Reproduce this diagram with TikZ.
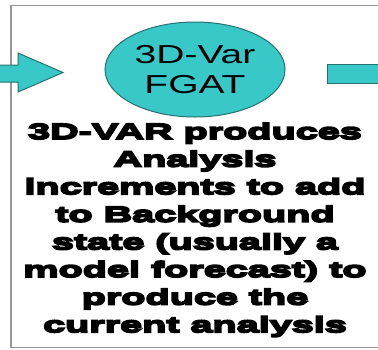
\documentclass[tikz,border=0pt]{standalone}
\usepackage{fontspec}
\setmainfont{Liberation Sans}
\newfontfamily\bodyfont[UprightFont={* Bold},FakeStretch=1.8,FakeBold=8]{Liberation Sans}
\newfontfamily\ellfont[FakeStretch=1.5]{Liberation Sans}
\usetikzlibrary{shapes.geometric}
\definecolor{tealfill}{RGB}{56,200,200}
\definecolor{tealedge}{RGB}{40,112,112}
\definecolor{framegray}{RGB}{150,150,150}
\tikzset{
  txtline/.style={anchor=base, inner sep=0pt, font=\bodyfont\fontsize{22}{27.6}\selectfont},
  blob/.style={ellipse, draw=tealedge, fill=tealfill, line width=1pt, inner sep=0pt,
    minimum width=180pt, minimum height=95pt, align=center,
    font=\ellfont\fontsize{26}{30}\selectfont},
  tealshape/.style={fill=tealfill, draw=tealedge, line width=1pt}
}
\begin{document}
\begin{tikzpicture}[x=1pt,y=-1pt]
\useasboundingbox (0,0) rectangle (378,349);
% frame
\draw[framegray, line width=1.5pt] (390,5.5) -- (11,5.5) -- (11,347.5) -- (390,347.5);
% left block arrow
\draw[tealshape] (-5,65) -- (18,65) -- (18,53) -- (63,72.5) -- (18,92) -- (18,82) -- (-5,82) -- cycle;
% right block
\draw[tealshape] (327,64) rectangle (390,83);
% ellipse
\node[blob] (fgat) at (195,69.5) {3D-Var\\FGAT};
% text
\node[txtline] (l1) at (195,139) {3D-VAR produces};
\node[txtline] (l2) at (195,166.6) {Analysis};
\node[txtline] (l3) at (195,194.2) {increments to add};
\node[txtline] (l4) at (195,221.8) {to Background};
\node[txtline] (l5) at (195,249.4) {state (usually a};
\node[txtline] (l6) at (195,277) {model forecast) to};
\node[txtline] (l7) at (195,304.6) {produce the};
\node[txtline] (l8) at (195,332.2) {current analysis};
\end{tikzpicture}
\end{document}
